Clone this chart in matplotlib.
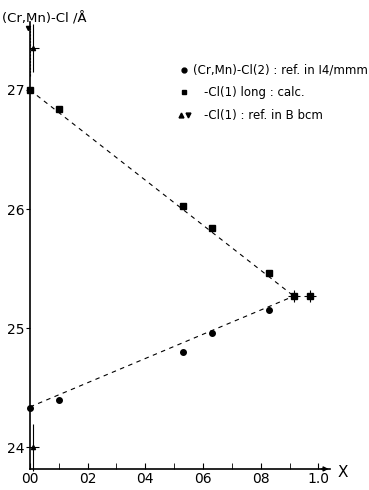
import matplotlib.pyplot as plt
import numpy as np

# (Cr,Mn)-Cl(2): ref. in I4/mmm
x_cl2 = [0.0, 0.10, 0.53, 0.63, 0.83, 0.915, 0.97]
d_cl2 = [2.433, 2.440, 2.480, 2.496, 2.515, 2.527, 2.527]

# -Cl(1) long : calc.
x_cl1 = [0.0, 0.10, 0.53, 0.63, 0.83, 0.915, 0.97]
d_cl1 = [2.700, 2.684, 2.603, 2.584, 2.546, 2.527, 2.527]

# -Cl(1): ref. in Bbcm (x = 0)
x_bbcm = [0.01, 0.01]
d_bbcm = [2.735, 2.400]
err_bbcm = [0.02, 0.02]

# dashed guide lines
line_up_x = [0.0, 0.915]
line_up_y = [2.700, 2.527]
line_lo_x = [0.0, 0.915]
line_lo_y = [2.434, 2.527]

xticks = [0.0, 0.2, 0.4, 0.6, 0.8, 1.0]
xticklabels = ['00', '02', '04', '06', '08', '1.0']
yticks = [2.4, 2.5, 2.6, 2.7]
yticklabels = ['24', '25', '26', '27']

fig = plt.figure(figsize=(3.69, 4.90), dpi=100)
ax = fig.add_axes([0.081, 0.043, 0.813, 0.912])

ax.plot(line_up_x, line_up_y, color='k', ls=(0, (4, 4)), lw=0.8)
ax.plot(line_lo_x, line_lo_y, color='k', ls=(0, (4, 4)), lw=0.8)

ax.plot(x_cl2, d_cl2, 'o', color='k', ms=4, ls='none', clip_on=False)
ax.plot(x_cl1, d_cl1, 's', color='k', ms=4, ls='none', clip_on=False)
# crossed marks at the meeting point
ax.plot(x_cl1[-2:], d_cl1[-2:], '+', color='k', ms=9, mew=0.8, ls='none')

ax.errorbar(x_bbcm, d_bbcm, yerr=err_bbcm, fmt='^', color='k', ms=3,
            elinewidth=0.8, capsize=0, clip_on=False)
ax.plot(x_bbcm, d_bbcm, '_', color='k', ms=8, mew=0.8)
ax.plot([-0.005], [2.752], 'v', color='k', ms=3, clip_on=False)
ax.plot([0.0, 0.0], [2.712, 2.752], color='k', lw=0.8, ls=(0, (2, 1)))

ax.set_xlim(0, 1.04)
ax.set_ylim(2.382, 2.757)

ax.spines['top'].set_visible(False)
ax.spines['right'].set_visible(False)
ax.spines['left'].set_linewidth(1.2)
ax.spines['bottom'].set_linewidth(1.2)

ax.set_xticks(xticks)
ax.set_xticklabels(xticklabels, fontsize=10)
ax.set_xticks(np.arange(0.1, 1.0, 0.2), minor=True)
ax.tick_params(axis='x', which='both', direction='in', length=4, pad=2)
ax.set_yticks(yticks)
ax.set_yticklabels(yticklabels, fontsize=10)
ax.tick_params(axis='y', direction='out', length=3, pad=1)

# arrow at the end of the x axis
ax.annotate('', xy=(1.045, 2.382), xytext=(1.0, 2.382),
            arrowprops=dict(arrowstyle='-|>', color='k', lw=1.0,
                            mutation_scale=7),
            annotation_clip=False)
fig.text(0.915, 0.026, 'X', fontsize=11)
fig.text(0.005, 0.955, '(Cr,Mn)-Cl /Å', fontsize=9.5)

# legend drawn by hand
fs = 8.5
ax.plot([0.535], [2.717], 'o', color='k', ms=3.5, transform=ax.transData)
ax.text(0.565, 2.717, '(Cr,Mn)-Cl(2) : ref. in I4/mmm', fontsize=fs,
        va='center')
ax.plot([0.535], [2.698], 's', color='k', ms=3.5)
ax.text(0.605, 2.698, '-Cl(1) long : calc.', fontsize=fs, va='center')
ax.plot([0.525], [2.679], '^', color='k', ms=3.5)
ax.plot([0.548], [2.679], 'v', color='k', ms=3.5)
ax.text(0.605, 2.679, '-Cl(1) : ref. in B bcm', fontsize=fs, va='center')

fig.savefig('out.png', dpi=100)
